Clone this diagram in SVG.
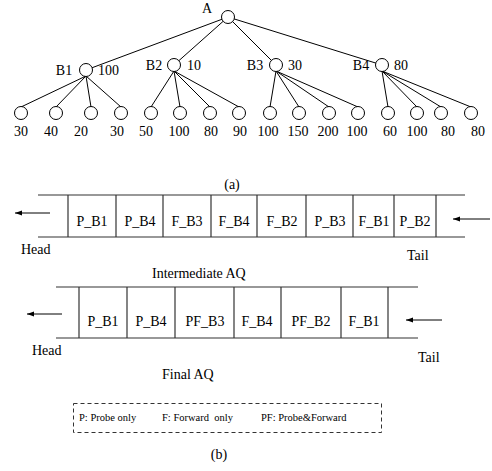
<svg xmlns="http://www.w3.org/2000/svg" width="492" height="471" viewBox="0 0 492 471">
<style>
text{font-family:"Liberation Serif","Times New Roman",serif;font-size:14px;fill:#000}
.s{font-size:10.5px}
.m{text-anchor:middle}
.e{stroke:#000;stroke-width:1;fill:none}
.n{fill:#fff;stroke:#000;stroke-width:1}
.q{stroke:#333;stroke-width:1.2;fill:none}
.d{stroke:#333;stroke-width:1;fill:none;stroke-dasharray:4 3}
</style>
<defs>
<marker id="ah" markerWidth="8" markerHeight="6" refX="7" refY="3" orient="auto" markerUnits="userSpaceOnUse">
<path d="M0,0.5 L7,3 L0,5.5 Z" fill="#000"/>
</marker>
</defs>
<rect width="492" height="471" fill="#fff"/>
<g id="connectors">
<line class="e" x1="228" y1="17" x2="86" y2="70"/>
<line class="e" x1="228" y1="17" x2="174" y2="65"/>
<line class="e" x1="228" y1="17" x2="276" y2="65"/>
<line class="e" x1="228" y1="17" x2="382" y2="65"/>
<line class="e" x1="86" y1="76" x2="21" y2="107"/>
<line class="e" x1="86" y1="76" x2="56" y2="107"/>
<line class="e" x1="86" y1="76" x2="91" y2="107"/>
<line class="e" x1="86" y1="76" x2="121" y2="107"/>
<line class="e" x1="174" y1="71" x2="151" y2="107"/>
<line class="e" x1="174" y1="71" x2="180" y2="107"/>
<line class="e" x1="174" y1="71" x2="210" y2="107"/>
<line class="e" x1="174" y1="71" x2="239" y2="107"/>
<line class="e" x1="276" y1="71" x2="270" y2="107"/>
<line class="e" x1="276" y1="71" x2="299" y2="107"/>
<line class="e" x1="276" y1="71" x2="329" y2="107"/>
<line class="e" x1="276" y1="71" x2="358" y2="107"/>
<line class="e" x1="382" y1="71" x2="388" y2="107"/>
<line class="e" x1="382" y1="71" x2="417" y2="107"/>
<line class="e" x1="382" y1="71" x2="441" y2="107"/>
<line class="e" x1="382" y1="71" x2="471" y2="107"/>
<line class="e" x1="50" y1="213" x2="15" y2="213" marker-end="url(#ah)"/>
<line class="e" x1="490" y1="219" x2="453" y2="219" marker-end="url(#ah)"/>
<line class="e" x1="62" y1="314" x2="27" y2="314" marker-end="url(#ah)"/>
<line class="e" x1="442" y1="320" x2="406" y2="320" marker-end="url(#ah)"/>
</g>
<g id="A"><circle class="n" cx="228" cy="17" r="6.5"/><text x="207" y="13" class="m">A</text></g>
<g id="B1"><circle class="n" cx="86" cy="70" r="6.5"/><text x="64" y="75" class="m">B1</text><text x="98" y="75">100</text></g>
<g id="B2"><circle class="n" cx="174" cy="65" r="6.5"/><text x="154" y="70" class="m">B2</text><text x="187" y="70">10</text></g>
<g id="B3"><circle class="n" cx="276" cy="65" r="6.5"/><text x="255" y="70" class="m">B3</text><text x="288" y="70">30</text></g>
<g id="B4"><circle class="n" cx="382" cy="65" r="6.5"/><text x="361" y="70" class="m">B4</text><text x="394" y="70">80</text></g>
<g id="leaves">
<circle class="n" cx="21" cy="113" r="6.5"/><text x="21" y="136" class="m">30</text>
<circle class="n" cx="56" cy="113" r="6.5"/><text x="51" y="136" class="m">40</text>
<circle class="n" cx="91" cy="113" r="6.5"/><text x="81" y="136" class="m">20</text>
<circle class="n" cx="121" cy="113" r="6.5"/><text x="117" y="136" class="m">30</text>
<circle class="n" cx="151" cy="113" r="6.5"/><text x="146" y="136" class="m">50</text>
<circle class="n" cx="180" cy="113" r="6.5"/><text x="179" y="136" class="m">100</text>
<circle class="n" cx="210" cy="113" r="6.5"/><text x="211" y="136" class="m">80</text>
<circle class="n" cx="239" cy="113" r="6.5"/><text x="240" y="136" class="m">90</text>
<circle class="n" cx="270" cy="113" r="6.5"/><text x="268" y="136" class="m">100</text>
<circle class="n" cx="299" cy="113" r="6.5"/><text x="298" y="136" class="m">150</text>
<circle class="n" cx="329" cy="113" r="6.5"/><text x="328" y="136" class="m">200</text>
<circle class="n" cx="358" cy="113" r="6.5"/><text x="357" y="136" class="m">100</text>
<circle class="n" cx="388" cy="113" r="6.5"/><text x="390" y="136" class="m">60</text>
<circle class="n" cx="417" cy="113" r="6.5"/><text x="417" y="136" class="m">100</text>
<circle class="n" cx="441" cy="113" r="6.5"/><text x="448" y="136" class="m">80</text>
<circle class="n" cx="471" cy="113" r="6.5"/><text x="478" y="136" class="m">80</text>
</g>
<text x="232" y="189" class="m">(a)</text>
<g id="queue1">
<line class="q" x1="38" y1="195" x2="465" y2="195"/>
<line class="q" x1="38" y1="237" x2="465" y2="237"/>
<line class="q" x1="68" y1="195" x2="68" y2="237"/>
<line class="q" x1="116" y1="195" x2="116" y2="237"/>
<line class="q" x1="163" y1="195" x2="163" y2="237"/>
<line class="q" x1="211" y1="195" x2="211" y2="237"/>
<line class="q" x1="257" y1="195" x2="257" y2="237"/>
<line class="q" x1="306" y1="195" x2="306" y2="237"/>
<line class="q" x1="353" y1="195" x2="353" y2="237"/>
<line class="q" x1="394" y1="195" x2="394" y2="237"/>
<line class="q" x1="436" y1="195" x2="436" y2="237"/>
<text x="92" y="226" class="m">P_B1</text>
<text x="140" y="226" class="m">P_B4</text>
<text x="187" y="226" class="m">F_B3</text>
<text x="234" y="226" class="m">F_B4</text>
<text x="282" y="226" class="m">F_B2</text>
<text x="330" y="226" class="m">P_B3</text>
<text x="374" y="226" class="m">F_B1</text>
<text x="415" y="226" class="m">P_B2</text>
<text x="21" y="254">Head</text>
<text x="407" y="260">Tail</text>
<text x="152" y="278">Intermediate AQ</text>
</g>
<g id="queue2">
<line class="q" x1="56" y1="287" x2="418" y2="287"/>
<line class="q" x1="56" y1="338" x2="418" y2="338"/>
<line class="q" x1="79" y1="287" x2="79" y2="338"/>
<line class="q" x1="127" y1="287" x2="127" y2="338"/>
<line class="q" x1="175" y1="287" x2="175" y2="338"/>
<line class="q" x1="234" y1="287" x2="234" y2="338"/>
<line class="q" x1="281" y1="287" x2="281" y2="338"/>
<line class="q" x1="341" y1="287" x2="341" y2="338"/>
<line class="q" x1="388" y1="287" x2="388" y2="338"/>
<text x="103" y="326" class="m">P_B1</text>
<text x="151" y="326" class="m">P_B4</text>
<text x="205" y="326" class="m">PF_B3</text>
<text x="257" y="326" class="m">F_B4</text>
<text x="311" y="326" class="m">PF_B2</text>
<text x="364" y="326" class="m">F_B1</text>
<text x="32" y="355">Head</text>
<text x="418" y="362">Tail</text>
<text x="162" y="379">Final AQ</text>
</g>
<g id="legend">
<rect class="d" x="73.5" y="403.5" width="308" height="29"/>
<text x="79" y="421" class="s">P: Probe only</text>
<text x="162" y="421" class="s" xml:space="preserve">F: Forward  only</text>
<text x="261" y="421" class="s">PF: Probe&amp;Forward</text>
</g>
<text x="219" y="459" class="m">(b)</text>
</svg>
